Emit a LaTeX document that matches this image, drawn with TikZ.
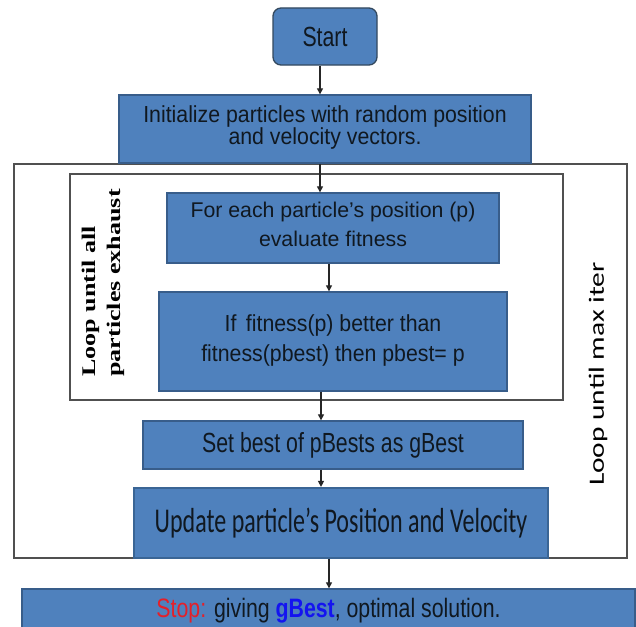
\documentclass[tikz,border=0pt]{standalone}
\usepackage{fontspec}
\setmainfont{Liberation Sans}
\newfontfamily\calfont{Carlito}
\newfontfamily\timesfont{Liberation Serif}
\usepackage{graphicx}
\usetikzlibrary{arrows.meta}
\definecolor{boxblue}{HTML}{4F81BD}
\definecolor{boxedge}{HTML}{385D8A}
\definecolor{startedge}{HTML}{34495E}
\definecolor{updedge}{HTML}{3A6595}
\definecolor{frameline}{HTML}{505050}
\definecolor{stopred}{HTML}{E4202A}
\definecolor{gbblue}{HTML}{1414F0}
\definecolor{txt}{HTML}{101820}
\newcommand{\vs}[2]{\scalebox{1}[#1]{#2}}
\begin{document}
\begin{tikzpicture}[x=1pt,y=-1pt,
  box/.style={draw=boxedge, line width=1.3pt, fill=boxblue, inner sep=0pt,
    text=txt, font=\fontsize{21.3}{22}\selectfont},
  frame/.style={draw=frameline, line width=1.3pt},
  conn/.style={draw=black!85, line width=1.1pt, -{Triangle[length=6pt,width=6pt]}}]
\useasboundingbox (0,0) rectangle (636,626);
\clip (0,0) rectangle (636,626);
\fill[white] (0,0) rectangle (636,626);
% frames
\draw[frame] (14,164) rectangle (627,558);
\draw[frame] (70,174) rectangle (563,400);
% boxes
\node[box, draw=startedge, rounded corners=8pt, minimum width=104pt, minimum height=57pt] (start) at (325,36.5) {\vs{1.3}{Start}};
\node[box, minimum width=412pt, minimum height=68pt] (init) at (325,129)
  {\vs{1.09}{\begin{tabular}{@{}c@{}}Initialize particles with random position\\[-2pt] and velocity vectors.\end{tabular}}};
\node[box, minimum width=332pt, minimum height=70pt] (foreach) at (333,228)
  {\vs{1.0}{\begin{tabular}{@{}c@{}}For each particle’s position (p)\\[7pt] evaluate fitness\end{tabular}}};
\node[box, minimum width=348pt, minimum height=99pt] (iffit) at (333,341.5)
  {\vs{1.09}{\begin{tabular}{@{}c@{}}If\, fitness(p) better than\\[5.5pt] fitness(pbest) then pbest= p\end{tabular}}};
\node[box, minimum width=380pt, minimum height=48pt] (setbest) at (333,445)
  {\vs{1.3}{Set best of pBests as gBest}};
\node[box, draw=updedge, line width=2.2pt, minimum width=414pt, minimum height=70pt, font=\calfont\fontsize{24}{26}\selectfont] (update) at (341,523)
  {\vs{1.45}{Update particle’s Position and Velocity}};
\node[box, minimum width=613pt, minimum height=44pt] (stop) at (328.5,611)
  {\vs{1.25}{{\color{stopred}Stop:} giving {\color{gbblue}\bfseries gBest}, optimal solution.}};
% loop labels
\node[inner sep=0pt, text=black, font=\timesfont\bfseries\fontsize{19.3}{25}\selectfont] (loopin) at (103,283)
  {\vs{1.35}{\rotatebox{90}{\begin{tabular}{@{}l@{}}Loop until all\\ particles exhaust\end{tabular}}}};
\node[inner sep=0pt, text=black, font=\calfont\fontsize{21.8}{24}\selectfont] (loopout) at (598,374)
  {\vs{1.35}{\rotatebox{90}{Loop until max iter}}};
% connectors
\coordinate (xa) at (320,0);
\coordinate (xb) at (329,0);
\coordinate (xc) at (321,0);
\draw[conn] (start.south -| xa) -- (init.north -| xa);
\draw[conn] (init.south -| xa) -- (foreach.north -| xa);
\draw[conn] (foreach.south -| xb) -- (iffit.north -| xb);
\draw[conn] (iffit.south -| xc) -- (setbest.north -| xc);
\draw[conn] (setbest.south -| xc) -- (update.north -| xc);
\draw[conn] (update.south -| xb) -- (stop.north -| xb);
\end{tikzpicture}
\end{document}
